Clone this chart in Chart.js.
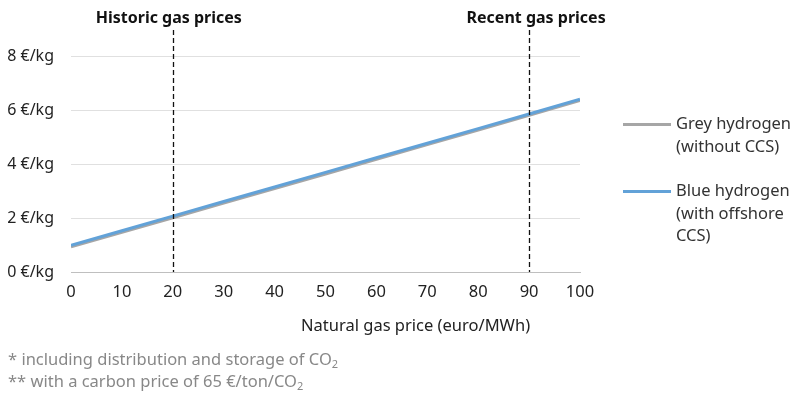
<!DOCTYPE html>
<html><head><meta charset="utf-8">
<script src="https://cdn.jsdelivr.net/npm/chart.js@4"></script>
<style>
html,body{margin:0;padding:0;background:#fff;}
#wrap{position:relative;width:800px;height:399px;font-family:"Noto Sans",sans-serif;}
canvas{position:absolute;left:0;top:0;}
.ann{position:absolute;top:6px;font-weight:bold;font-size:16px;color:#111;white-space:nowrap;transform:translateX(-50%);}
.leg{position:absolute;left:676px;font-size:16.5px;color:#333;line-height:22.5px;white-space:nowrap;}
.sw{position:absolute;left:623px;width:48px;height:3px;}
.foot{position:absolute;left:8px;font-size:16.5px;color:#888;white-space:nowrap;}
.xt{position:absolute;left:301px;top:313px;font-size:16.5px;color:#222;white-space:nowrap;}
sub{font-size:11px;vertical-align:-3px;}
</style></head>
<body><div id="wrap">
<canvas id="c" width="800" height="399"></canvas>
<div class="ann" id="a1">Historic gas prices</div>
<div class="ann" id="a2">Recent gas prices</div>
<div class="xt">Natural gas price (euro/MWh)</div>
<div class="sw" style="top:123px;background:#a6a6a6"></div>
<div class="leg" style="top:112px">Grey hydrogen<br>(without CCS)</div>
<div class="sw" style="top:190px;background:#62a2d8"></div>
<div class="leg" style="top:179px">Blue hydrogen<br>(with offshore<br>CCS)</div>
<div class="foot" style="top:347px">* including distribution and storage of CO<sub>2</sub></div>
<div class="foot" style="top:369px">** with a carbon price of 65 €/ton/CO<sub>2</sub></div>
</div>
<script>
const gasPrices = [0,10,20,30,40,50,60,70,80,90,100];
const greyHydrogen = [0.93,1.47,2.01,2.55,3.09,3.63,4.17,4.72,5.26,5.80,6.35];
const blueHydrogen = [0.99,1.53,2.07,2.61,3.15,3.69,4.23,4.77,5.31,5.85,6.40];
const markerPrices = [20,90];
const yTicks = [0,2,4,6,8];

const markers = {
  id:'markers',
  afterDatasetsDraw(chart){
    const {ctx, chartArea, scales:{x}} = chart;
    ctx.save();
    ctx.strokeStyle='#111'; ctx.lineWidth=1.3; ctx.setLineDash([5,3]);
    markerPrices.forEach((p,i)=>{
      const px = Math.round(x.getPixelForValue(p))+0.5;
      ctx.beginPath(); ctx.moveTo(px,30); ctx.lineTo(px,chartArea.bottom); ctx.stroke();
    });
    ctx.restore();
    const a1=document.getElementById('a1'), a2=document.getElementById('a2');
    a1.style.left = (x.getPixelForValue(markerPrices[0])-4)+'px';
    a2.style.left = (x.getPixelForValue(markerPrices[1])+7)+'px';
  }
};

new Chart(document.getElementById('c'),{
  type:'line',
  data:{datasets:[
    {label:'Grey hydrogen (without CCS)',data:gasPrices.map((g,i)=>({x:g,y:greyHydrogen[i]})),borderColor:'#a6a6a6',borderWidth:3,pointRadius:0,tension:0,order:1},
    {label:'Blue hydrogen (with offshore CCS)',data:gasPrices.map((g,i)=>({x:g,y:blueHydrogen[i]})),borderColor:'#62a2d8',borderWidth:3,pointRadius:0,tension:0,order:0}
  ]},
  options:{
    responsive:false,animation:false,
    layout:{padding:{left:0,right:220,top:56,bottom:60}},
    plugins:{legend:{display:false},tooltip:{enabled:false}},
    scales:{
      x:{type:'linear',min:0,max:100,
        ticks:{stepSize:10,color:'#222',font:{family:'Noto Sans',size:16.5},padding:4},
        grid:{display:false,drawOnChartArea:false,drawTicks:true,tickLength:6,color:'#bfbfbf'},
        border:{display:true,color:'#bfbfbf'},
        afterFit(s){s.height=67;}
      },
      y:{min:0,max:8,
        afterBuildTicks(s){s.ticks=yTicks.map(v=>({value:v}));},
        ticks:{color:'#222',font:{family:'Noto Sans',size:16},padding:17,callback:v=>v+' €/kg'},
        grid:{color:'#e0e0e0',drawTicks:false},
        border:{display:false},
        afterFit(s){s.width=71;}
      }
    }
  },
  plugins:[markers]
});
</script>
</body></html>
